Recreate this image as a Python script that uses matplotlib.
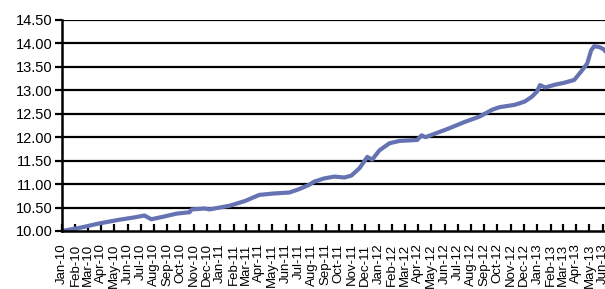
import numpy as np
import pandas as pd
import matplotlib
matplotlib.use("Agg")
import matplotlib.pyplot as plt
import matplotlib.dates as mdates

# values
dates = ["2010-01-01", "2010-02-12", "2010-03-27", "2010-05-13", "2010-06-17",
         "2010-07-10", "2010-07-26", "2010-08-25", "2010-09-22", "2010-10-22",
         "2010-10-27", "2010-11-26", "2010-12-07", "2011-01-23", "2011-02-27",
         "2011-04-01", "2011-05-05", "2011-06-09", "2011-07-01", "2011-07-24",
         "2011-08-05", "2011-08-28", "2011-09-21", "2011-10-14", "2011-10-30",
         "2011-11-18", "2011-12-06", "2011-12-17", "2012-01-03", "2012-01-26",
         "2012-02-18", "2012-03-30", "2012-04-09", "2012-04-18", "2012-05-20",
         "2012-06-12", "2012-07-16", "2012-08-21", "2012-09-20", "2012-10-06",
         "2012-11-10", "2012-12-03", "2012-12-19", "2012-12-31", "2013-01-07",
         "2013-01-19", "2013-02-11", "2013-03-04", "2013-03-27", "2013-04-12",
         "2013-04-26", "2013-05-05", "2013-05-12", "2013-05-24", "2013-06-02",
         "2013-06-08"]
values = [10.00, 10.07, 10.16, 10.24, 10.29,
          10.33, 10.25, 10.31, 10.37, 10.40,
          10.46, 10.48, 10.46, 10.54, 10.64,
          10.77, 10.80, 10.82, 10.89, 10.98,
          11.05, 11.12, 11.16, 11.14, 11.18,
          11.34, 11.58, 11.52, 11.72, 11.87,
          11.92, 11.94, 12.04, 12.00, 12.11,
          12.19, 12.32, 12.44, 12.59, 12.64,
          12.69, 12.76, 12.86, 12.97, 13.11,
          13.06, 13.12, 13.16, 13.22, 13.40,
          13.57, 13.85, 13.94, 13.92, 13.88,
          13.82]
yticks = [10.0, 10.5, 11.0, 11.5, 12.0, 12.5, 13.0, 13.5, 14.0, 14.5]

plt.rcParams['font.family'] = ['Liberation Sans', 'DejaVu Sans']

x = pd.to_datetime(dates)
months = pd.date_range("2010-01-01", "2013-06-01", freq="MS")

fig = plt.figure(figsize=(6.05, 2.89), dpi=100)
ax = fig.add_axes([0.1025, 0.2007, 0.8975, 0.7304])

ax.plot(x, values, color="#6673B2", lw=3, solid_capstyle="round")

ax.set_ylim(10, 14.5)
ax.set_yticks(yticks)
ax.set_yticklabels(["%.2f" % v for v in yticks], fontsize=10.5)
for v in yticks[1:]:
    ax.axhline(v, color="black", lw=1.6, zorder=0)

ax.set_xlim(months[0], pd.Timestamp("2013-06-06"))
ax.set_xticks(months)
ax.set_xticklabels([m.strftime("%b-%y") for m in months], rotation=90, fontsize=9.5)
ax.tick_params(axis="x", direction="in", length=5, width=1.6, pad=9)
ax.tick_params(axis="y", direction="out", length=5, width=1.6, pad=2)

for s in ["top", "right"]:
    ax.spines[s].set_visible(False)
ax.spines["left"].set_linewidth(1.8)
ax.spines["bottom"].set_linewidth(1.8)

fig.savefig("out.png", dpi=100)
